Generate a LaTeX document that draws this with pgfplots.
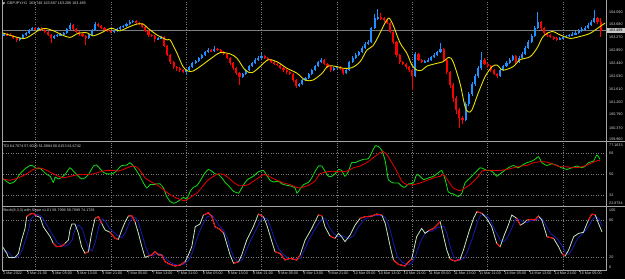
\documentclass[border=0pt]{standalone}
\usepackage{pgfplots}
\pgfplotsset{compat=1.18}
\usepackage{pgfplotstable}
\usepackage{fontspec}
\setmainfont{Liberation Sans}
\definecolor{upc}{RGB}{30,144,255}
\definecolor{dnc}{RGB}{255,0,0}
\definecolor{mac}{RGB}{235,225,0}
\definecolor{tdig}{RGB}{20,210,20}
\definecolor{tdir}{RGB}{225,0,0}
\definecolor{stc}{RGB}{195,230,195}
\definecolor{sigc}{RGB}{25,25,175}
\definecolor{gridc}{RGB}{125,125,125}
\definecolor{framec}{RGB}{165,165,165}
\definecolor{txtc}{RGB}{215,215,215}
\newcommand\mtf{\fontsize{3.7pt}{4pt}\selectfont}

\pgfplotstableread{
i o h l c
0 163.34 163.42 163.31 163.38
1 163.38 163.40 163.30 163.35
2 163.35 163.40 163.30 163.32
3 163.32 163.35 163.21 163.25
4 163.25 163.28 163.13 163.19
5 163.19 163.28 163.16 163.25
6 163.25 163.38 163.22 163.35
7 163.35 163.46 163.33 163.41
8 163.41 163.54 163.39 163.51
9 163.51 163.62 163.49 163.57
10 163.57 163.60 163.50 163.54
11 163.54 163.61 163.51 163.57
12 163.57 163.60 163.48 163.51
13 163.51 163.53 163.41 163.45
14 163.45 163.48 163.30 163.35
15 163.35 163.37 163.09 163.25
16 163.25 163.35 163.22 163.32
17 163.32 163.39 163.29 163.35
18 163.35 163.42 163.33 163.38
19 163.38 163.45 163.35 163.41
20 163.41 163.58 163.39 163.54
21 163.54 163.74 163.51 163.67
22 163.67 163.70 163.50 163.54
23 163.54 163.57 163.41 163.45
24 163.45 163.48 163.33 163.38
25 163.38 163.41 163.27 163.32
26 163.32 163.34 163.03 163.25
27 163.25 163.38 163.22 163.35
28 163.35 163.55 163.32 163.51
29 163.51 163.77 163.49 163.70
30 163.70 163.73 163.60 163.64
31 163.64 163.66 163.53 163.57
32 163.57 163.60 163.47 163.51
33 163.51 163.55 163.44 163.48
34 163.48 163.51 163.40 163.45
35 163.45 163.52 163.42 163.48
36 163.48 163.57 163.45 163.54
37 163.54 163.65 163.52 163.61
38 163.61 163.68 163.58 163.64
39 163.64 163.74 163.61 163.70
40 163.70 163.82 163.67 163.77
41 163.77 163.84 163.74 163.80
42 163.80 163.83 163.70 163.74
43 163.74 163.77 163.66 163.70
44 163.70 163.73 163.57 163.61
45 163.61 163.64 163.43 163.48
46 163.48 163.50 163.30 163.35
47 163.35 163.39 163.27 163.32
48 163.32 163.35 163.12 163.22
49 163.22 163.29 163.18 163.25
50 163.25 163.33 163.22 163.28
51 163.28 163.31 162.95 163.00
52 163.00 163.03 162.66 162.71
53 162.71 162.75 162.43 162.48
54 162.48 162.52 162.26 162.32
55 162.32 162.36 162.20 162.29
56 162.29 162.33 162.17 162.22
57 162.22 162.26 162.12 162.19
58 162.19 162.26 162.08 162.22
59 162.22 162.35 162.18 162.32
60 162.32 162.49 162.29 162.45
61 162.45 162.55 162.42 162.51
62 162.51 162.65 162.48 162.61
63 162.61 162.75 162.58 162.71
64 162.71 162.85 162.68 162.80
65 162.80 162.92 162.77 162.87
66 162.87 162.90 162.79 162.83
67 162.83 163.00 162.80 162.90
68 162.90 162.94 162.83 162.87
69 162.87 162.90 162.76 162.80
70 162.80 162.83 162.70 162.74
71 162.74 162.77 162.57 162.61
72 162.61 162.64 162.40 162.45
73 162.45 162.48 162.23 162.29
74 162.29 162.33 162.06 162.13
75 162.13 162.16 161.74 162.00
76 162.00 162.14 161.96 162.10
77 162.10 162.26 162.07 162.22
78 162.22 162.39 162.19 162.35
79 162.35 162.49 162.32 162.45
80 162.45 162.60 162.42 162.55
81 162.55 162.66 162.52 162.61
82 162.61 162.76 162.58 162.67
83 162.67 162.70 162.57 162.61
84 162.61 162.64 162.51 162.55
85 162.55 162.58 162.44 162.48
86 162.48 162.51 162.38 162.42
87 162.42 162.45 162.34 162.39
88 162.39 162.42 162.25 162.29
89 162.29 162.32 162.17 162.22
90 162.22 162.25 162.11 162.16
91 162.16 162.19 162.05 162.10
92 162.10 162.13 161.85 161.90
93 161.90 161.93 161.64 161.71
94 161.71 161.81 161.67 161.77
95 161.77 161.94 161.74 161.90
96 161.90 162.01 161.87 161.97
97 161.97 162.14 161.94 162.10
98 162.10 162.26 162.07 162.22
99 162.22 162.39 162.19 162.35
100 162.35 162.53 162.32 162.48
101 162.48 162.62 162.45 162.55
102 162.55 162.58 162.38 162.42
103 162.42 162.45 162.28 162.32
104 162.32 162.36 162.17 162.22
105 162.22 162.33 162.19 162.29
106 162.29 162.36 162.26 162.32
107 162.32 162.35 162.22 162.26
108 162.26 162.29 162.08 162.13
109 162.13 162.26 162.10 162.22
110 162.22 162.52 162.19 162.48
111 162.48 162.66 162.45 162.61
112 162.61 162.76 162.58 162.71
113 162.71 162.85 162.68 162.80
114 162.80 162.98 162.77 162.93
115 162.93 163.12 162.90 163.06
116 163.06 163.18 163.02 163.12
117 163.12 163.62 163.09 163.57
118 163.57 164.02 163.53 163.89
119 163.89 164.18 163.84 163.92
120 163.92 164.06 163.84 163.89
121 163.89 163.94 163.78 163.83
122 163.83 163.86 163.69 163.74
123 163.74 163.77 163.40 163.45
124 163.45 163.48 163.06 163.12
125 163.12 163.15 162.65 162.71
126 162.71 162.75 162.43 162.48
127 162.48 162.52 162.37 162.42
128 162.42 162.46 162.27 162.32
129 162.32 162.36 162.17 162.22
130 162.22 162.25 161.58 162.03
131 162.03 162.79 161.99 162.74
132 162.74 162.78 162.50 162.55
133 162.55 162.58 162.44 162.48
134 162.48 162.55 162.45 162.51
135 162.51 162.60 162.47 162.55
136 162.55 162.68 162.52 162.64
137 162.64 162.76 162.61 162.71
138 162.71 162.85 162.68 162.80
139 162.80 163.09 162.77 162.90
140 162.90 162.93 162.50 162.55
141 162.55 162.59 162.10 162.16
142 162.16 162.20 161.66 161.74
143 161.74 161.80 161.20 161.32
144 161.32 161.38 160.82 160.94
145 160.94 161.00 160.36 160.68
146 160.68 160.75 160.50 160.62
147 160.62 161.20 160.58 161.13
148 161.13 161.52 161.08 161.45
149 161.45 161.84 161.40 161.77
150 161.77 162.10 161.72 162.03
151 162.03 162.36 161.98 162.29
152 162.29 162.80 162.24 162.55
153 162.55 162.60 162.38 162.42
154 162.42 162.46 162.30 162.35
155 162.35 162.38 162.17 162.22
156 162.22 162.25 162.05 162.10
157 162.10 162.14 161.97 162.03
158 162.03 162.26 162.00 162.22
159 162.22 162.39 162.19 162.35
160 162.35 162.50 162.32 162.45
161 162.45 162.60 162.42 162.55
162 162.55 162.72 162.52 162.67
163 162.67 162.70 162.43 162.48
164 162.48 162.66 162.45 162.61
165 162.61 162.79 162.58 162.74
166 162.74 162.98 162.71 162.93
167 162.93 163.18 162.90 163.12
168 163.12 163.38 163.09 163.32
169 163.32 163.64 163.29 163.57
170 163.57 164.09 163.53 163.77
171 163.77 163.80 163.52 163.57
172 163.57 163.60 163.36 163.41
173 163.41 163.45 163.30 163.35
174 163.35 163.39 163.24 163.28
175 163.28 163.32 163.20 163.25
176 163.25 163.28 163.17 163.22
177 163.22 163.29 163.18 163.25
178 163.25 163.32 163.21 163.28
179 163.28 163.36 163.25 163.32
180 163.32 163.39 163.29 163.35
181 163.35 163.43 163.32 163.38
182 163.38 163.47 163.35 163.41
183 163.41 163.53 163.38 163.48
184 163.48 163.59 163.45 163.54
185 163.54 163.63 163.51 163.57
186 163.57 163.72 163.54 163.67
187 163.67 163.83 163.64 163.77
188 163.77 164.15 163.73 163.89
189 163.89 163.93 163.70 163.75
190 163.75 163.89 163.29 163.49
}\candles

\pgfplotstableread{
x y r
-0.3 36.0 0
0.9 26.4 0
1.4 20.0 0
2.4 19.5 0
3.5 20.0 0
4.6 26.4 0
5.6 47.9 0
6.7 66.6 0
7.2 85.4 1
8.3 89.6 1
9.4 90.7 1
10.4 86.4 1
11.5 84.3 0
12.5 69.3 0
13.6 61.2 0
14.7 53.2 0
15.7 42.5 1
16.8 37.1 1
18.4 38.2 1
19.4 42.5 1
20.5 47.9 0
21.0 63.9 0
21.6 73.6 0
22.6 73.6 0
23.7 58.6 0
24.7 37.1 0
25.8 26.4 1
26.9 29.1 1
27.9 58.6 0
29.0 82.7 1
30.1 85.4 1
31.1 74.6 1
32.2 63.9 0
33.8 60.2 1
35.4 50.5 1
36.4 48.9 1
37.5 63.9 0
38.6 77.3 0
39.6 86.4 1
40.7 87.0 1
41.7 77.3 1
42.8 58.6 0
43.9 37.1 0
44.9 20.0 0
46.0 22.1 1
47.0 23.8 1
48.1 29.1 1
49.2 23.8 1
50.2 23.8 1
51.3 13.0 1
52.9 8.8 1
54.5 6.1 1
56.1 7.7 1
57.7 13.0 1
58.7 23.8 0
59.8 37.1 0
60.9 69.3 0
62.4 73.6 0
63.5 88.0 1
65.1 91.8 1
66.2 85.4 1
67.2 69.3 1
68.8 65.0 1
69.9 59.6 1
70.9 42.5 0
72.0 23.8 0
73.1 10.4 1
74.7 13.0 1
75.7 23.8 0
77.3 47.9 0
79.4 69.3 0
81.0 89.6 1
82.6 85.4 1
83.7 71.9 0
85.3 45.2 0
86.3 29.1 1
87.9 26.4 1
89.5 15.7 1
91.1 18.4 1
93.2 15.7 1
94.3 24.0 1
95.9 47.9 0
98.0 66.6 0
100.1 88.0 1
101.2 87.0 1
102.2 69.3 0
103.8 54.3 1
105.4 50.5 1
106.5 58.6 0
107.5 53.2 0
108.6 45.2 0
110.2 55.9 0
111.8 71.9 0
113.4 82.7 1
115.0 85.4 1
117.1 86.4 1
118.7 89.6 1
120.3 88.0 1
121.4 74.6 0
123.0 37.1 0
124.0 15.7 1
125.6 8.8 1
127.7 6.1 1
128.8 13.0 1
129.8 16.8 1
131.4 53.2 0
133.0 66.6 0
134.1 58.6 0
135.2 62.9 1
136.8 66.6 1
138.9 77.3 1
140.0 53.2 0
141.0 31.8 0
142.1 16.8 1
143.7 14.1 1
145.2 16.8 1
146.3 31.8 0
147.9 58.6 0
149.5 82.7 0
150.6 93.4 1
152.2 90.7 1
153.7 82.7 0
155.3 69.3 0
156.9 42.5 1
158.0 37.1 1
159.1 53.2 0
160.6 71.9 0
161.7 88.0 0
163.3 82.7 1
164.4 71.9 1
165.4 74.6 0
166.5 80.0 1
168.1 81.1 1
169.1 80.0 1
170.2 86.4 1
171.3 80.0 0
172.9 53.2 1
175.0 50.5 1
176.6 37.1 0
177.6 26.4 1
178.7 22.1 1
179.8 31.8 0
181.4 53.2 0
183.0 58.6 0
184.5 60.2 0
186.1 80.0 1
187.2 89.6 1
188.3 88.0 1
189.3 74.6 0
190.4 61.2 0
}\stoch

\pgfplotsset{
  mtpanel/.style={
    scale only axis, width=603pt, anchor=south west,
    xmin=-0.32, xmax=191.7,
    axis line style={draw=none},
    xtick={10,34,58,82,106,130,154,178}, xticklabels={},
    xmajorgrids,
    major grid style={draw=gridc, line width=0.45pt, dash pattern=on 1pt off 1.5pt},
    major tick length=0pt,
    xtick pos=bottom, ytick pos=right, yticklabel pos=right,
    yticklabel style={font=\mtf, text=txtc, anchor=west, inner sep=0pt, xshift=3pt},
    xticklabel style={font=\mtf, text=txtc, anchor=north west, inner sep=0pt, yshift=-0.6pt},
    clip mode=individual,
  },
  wick/.style={draw=none, mark=none, forget plot,
    error bars/.cd, y dir=both, y explicit, error mark=none,
    error bar style={draw=#1, line width=0.75pt}},
  body/.style={draw=none, mark=none, forget plot,
    error bars/.cd, y dir=both, y explicit, error mark=none,
    error bar style={draw=#1, line width=2.1pt}},
}

\begin{document}
\begin{tikzpicture}
\useasboundingbox (0,0) rectangle (625pt,279pt);
\fill[black] (0,0) rectangle (625pt,279pt);

% ---------------- main price panel ----------------
\begin{axis}[mtpanel, at={(3pt,138.5pt)}, height=139.5pt,
  ymin=159.96, ymax=164.44,
  ytick={164.09,163.68,163.27,162.85,162.44,162.03,161.61,161.20,160.79,160.37},
  yticklabels={164.090,163.680,163.270,162.850,162.440,162.030,161.610,161.200,160.790,160.370}]
\addplot[gridc, line width=0.5pt, forget plot] coordinates {(-0.32,163.489) (191.7,163.489)};
% wicks
\addplot[restrict expr to domain={\thisrow{c}-\thisrow{o}}{0:10}, wick=upc]
  table[x=i, y expr={(\thisrow{h}+\thisrow{l})/2}, y error expr={(\thisrow{h}-\thisrow{l})/2}] {\candles};
\addplot[restrict expr to domain={\thisrow{c}-\thisrow{o}}{-10:-0.0001}, wick=dnc]
  table[x=i, y expr={(\thisrow{h}+\thisrow{l})/2}, y error expr={(\thisrow{h}-\thisrow{l})/2}] {\candles};
% bodies
\addplot[restrict expr to domain={\thisrow{c}-\thisrow{o}}{0:10}, body=upc]
  table[x=i, y expr={(\thisrow{o}+\thisrow{c})/2}, y error expr={(\thisrow{c}-\thisrow{o})/2}] {\candles};
\addplot[restrict expr to domain={\thisrow{c}-\thisrow{o}}{-10:-0.0001}, body=dnc]
  table[x=i, y expr={(\thisrow{o}+\thisrow{c})/2}, y error expr={(\thisrow{o}-\thisrow{c})/2}] {\candles};
% moving average
\addplot[mac, line width=0.9pt, smooth, tension=0.5] coordinates {
(-0.3,163.41) (5.1,163.25) (7.3,163.26) (11.5,163.53) (13.1,163.56) (15.6,163.49) (18.5,163.35) (21.0,163.27) (23.6,163.40) (26.4,163.42) (28.3,163.32) (30.6,163.40) (33.8,163.56) (35.4,163.53) (36.9,163.48) (40.1,163.62) (42.4,163.70) (44.3,163.70) (45.9,163.56) (48.7,163.35) (51.9,163.19) (52.9,163.19) (55.1,162.76) (57.0,162.33) (58.6,162.19) (60.2,162.19) (62.4,162.33) (65.6,162.57) (68.8,162.78) (72.0,162.74) (74.2,162.60) (76.8,162.22) (79.0,162.14) (81.5,162.33) (84.1,162.55) (86.9,162.49) (90.1,162.28) (93.3,162.12) (95.9,161.90) (98.4,161.90) (101.3,162.12) (103.2,162.35) (106.1,162.33) (108.0,162.28) (110.8,162.30) (113.4,162.49) (115.6,162.87) (117.5,163.00) (119.7,163.40) (121.3,163.73) (122.6,163.89) (123.9,163.67) (126.1,163.10) (128.3,162.76) (129.9,162.38) (131.5,162.22) (133.1,162.22) (134.7,162.35) (137.9,162.44) (139.8,162.49) (141.7,162.63) (143.0,162.49) (145.2,161.80) (146.8,161.05) (147.8,160.88) (149.0,160.94) (151.0,161.48) (153.2,162.01) (155.4,162.33) (157.0,162.38) (158.9,162.22) (162.1,162.33) (164.3,162.55) (167.5,162.65) (169.7,162.92) (171.7,163.30) (174.5,163.46) (177.1,163.35) (180.3,163.24) (183.4,163.30) (186.6,163.40) (189.8,163.62) (191.4,163.73)};
\node[fill=white!78!black, text=black, font=\mtf, inner sep=0pt, minimum height=5.6pt, minimum width=19pt, anchor=west] at (axis cs:191.7,163.489) {163.489};
\node[font=\mtf, text=txtc, anchor=west, inner sep=0pt] at ([xshift=3pt,yshift=1.6pt]axis cs:191.7,159.96) {159.960};
\end{axis}

% ---------------- TDI panel ----------------
\begin{axis}[mtpanel, at={(3pt,73pt)}, height=63pt,
  ymin=22.8734, ymax=77.1633, ytick={32,50,68}, yticklabels={32,50,68}, ymajorgrids]
\addplot[tdig, line width=0.85pt, smooth, tension=0.3] coordinates {
(-0.3,46.2) (0.32,45.1) (1.92,42.2) (3.51,44.2) (5.1,50.6) (6.7,54.9) (8.3,57.8) (9.35,57.3) (10.4,54.9) (11.5,55.2) (12.5,52.9) (13.6,50.0) (14.7,48.5) (15.7,43.3) (16.3,47.7) (17.3,46.2) (18.4,47.7) (19.4,50.0) (21.0,55.8) (22.1,52.9) (23.7,48.5) (24.7,46.2) (25.8,47.1) (26.9,50.0) (28.5,57.3) (29.5,58.1) (30.6,54.9) (31.6,52.0) (32.7,50.6) (34.3,50.6) (35.4,52.0) (36.4,54.9) (37.5,57.8) (39.1,58.1) (40.1,60.2) (41.2,57.3) (42.3,52.9) (43.3,48.5) (44.4,42.7) (45.5,38.4) (46.5,41.3) (47.6,41.3) (48.6,41.9) (49.7,41.9) (50.8,38.4) (51.8,31.1) (52.9,26.8) (54.0,25.3) (55.0,26.2) (56.1,28.2) (57.1,30.3) (58.2,28.8) (59.3,35.5) (60.3,39.0) (61.4,40.4) (62.4,44.2) (64.0,51.5) (65.1,54.4) (66.2,52.9) (67.2,50.6) (68.3,50.0) (69.4,47.1) (70.4,43.3) (71.5,40.4) (73.1,35.5) (74.7,34.0) (75.7,38.4) (76.8,43.3) (77.8,46.2) (79.4,48.5) (81.0,52.3) (82.6,53.5) (83.7,49.1) (84.8,44.8) (85.8,43.6) (87.4,44.2) (88.5,41.9) (90.1,40.7) (91.7,39.8) (92.7,38.4) (93.3,34.0) (94.3,37.5) (95.4,41.3) (97.0,43.3) (98.0,47.1) (99.1,52.9) (100.2,57.3) (101.2,57.3) (102.2,52.9) (103.3,48.5) (104.4,48.5) (105.4,50.6) (106.5,54.4) (107.5,53.5) (108.6,48.5) (109.7,52.9) (110.7,60.2) (111.8,60.2) (112.9,61.6) (114.5,63.1) (116.0,63.6) (117.1,68.9) (118.2,74.7) (119.2,74.1) (120.3,70.9) (121.4,61.6) (122.4,45.6) (124.0,42.7) (125.6,42.7) (126.7,39.8) (127.7,39.0) (128.8,41.9) (130.4,42.7) (131.4,50.0) (132.5,48.5) (133.6,45.6) (135.2,47.1) (136.8,48.5) (138.3,51.5) (139.4,53.5) (140.5,45.6) (141.5,34.9) (143.1,33.2) (144.7,31.1) (145.8,34.0) (146.8,42.7) (148.4,47.1) (150.0,51.5) (151.6,55.8) (152.7,54.9) (153.7,53.5) (154.8,53.5) (155.9,51.5) (156.9,48.5) (158.0,50.6) (159.1,52.9) (160.6,55.8) (162.2,57.8) (163.8,55.8) (164.9,57.8) (166.5,60.2) (168.1,61.6) (169.1,63.1) (170.2,65.4) (171.3,60.2) (172.9,57.8) (174.5,59.3) (176.1,57.8) (177.6,55.8) (179.2,54.4) (180.8,55.8) (182.4,57.3) (184.0,55.8) (185.1,57.3) (186.1,60.2) (187.7,61.6) (188.8,66.8) (189.8,63.1)};
\addplot[tdir, line width=0.85pt, smooth, tension=0.3] coordinates {
(-0.3,46.2) (1.9,45.1) (4.6,47.1) (7.2,50.6) (9.4,54.4) (10.9,55.8) (12.5,54.9) (14.1,52.9) (15.7,50.6) (17.3,48.5) (18.9,47.1) (20.5,48.0) (22.1,49.1) (24.2,50.0) (26.3,50.0) (28.5,50.6) (30.6,52.3) (32.7,53.5) (34.8,53.5) (36.4,52.9) (38.0,54.4) (40.1,56.7) (41.2,57.3) (42.3,56.4) (43.3,53.5) (44.9,47.1) (46.5,44.2) (48.6,41.3) (50.8,36.9) (52.9,32.6) (55.0,29.7) (57.1,27.6) (58.2,28.2) (59.8,31.1) (61.4,34.0) (62.4,36.9) (64.6,44.2) (66.7,48.5) (68.3,50.6) (69.9,50.0) (71.5,47.1) (73.1,43.3) (74.7,40.4) (76.3,40.4) (77.8,41.3) (79.4,44.2) (81.0,47.1) (82.6,50.0) (83.7,49.4) (85.3,47.1) (86.9,45.1) (89.0,42.7) (91.1,41.3) (92.7,39.3) (94.3,38.4) (96.9,40.7) (99.0,44.2) (100.6,50.6) (102.8,52.3) (104.9,52.9) (107.0,52.3) (109.1,52.9) (111.3,55.8) (113.4,57.3) (115.5,60.2) (117.6,64.5) (119.8,68.9) (120.8,69.7) (121.9,67.4) (123.5,60.2) (125.1,52.9) (126.7,44.2) (128.3,41.3) (130.4,41.3) (132.5,42.7) (134.6,44.8) (136.8,47.1) (138.9,48.5) (140.0,50.0) (141.5,44.2) (143.1,38.4) (145.2,36.1) (146.8,38.4) (148.4,41.3) (150.6,47.1) (152.2,52.9) (153.7,53.8) (155.9,53.5) (158.0,53.5) (160.1,54.4) (162.2,55.8) (164.4,57.3) (166.5,57.8) (168.6,60.2) (170.7,61.0) (172.9,60.7) (175.0,58.7) (177.1,56.7) (179.2,56.7) (181.4,55.8) (183.5,56.4) (185.6,58.1) (187.7,60.7) (189.3,62.2) (189.8,61.6)};
\end{axis}

% ---------------- Stochastic panel ----------------
\begin{axis}[mtpanel, at={(3pt,9.2pt)}, height=62.2pt,
  ymin=0, ymax=100, ytick={20,80}, yticklabels={20,80}, ymajorgrids,
  extra x ticks={-0.3,7.3,15.3,23.3,31.3,39.3,47.3,55.3,63.3,71.3,79.3,87.3,95.3,103.3,111.3,119.3,127.3,135.3,143.3,151.3,159.3,167.3,175.3,183.3},
  extra x tick labels={2 Mar 2022,3 Mar 21:00,4 Mar 05:00,4 Mar 13:00,4 Mar 21:00,7 Mar 05:00,7 Mar 13:00,7 Mar 21:00,8 Mar 05:00,8 Mar 13:00,8 Mar 21:00,9 Mar 05:00,9 Mar 13:00,9 Mar 21:00,10 Mar 05:00,10 Mar 13:00,10 Mar 21:00,11 Mar 05:00,11 Mar 13:00,11 Mar 21:00,14 Mar 05:00,14 Mar 13:00,14 Mar 21:00,15 Mar 05:00},
  extra x tick style={grid=none, major tick length=1.8pt, tick align=outside, tick style={draw=framec, line width=0.4pt}}]
\addplot[sigc, line width=0.8pt] coordinates {
(-0.3,30) (1.5,28) (2.6,21) (3.6,20) (4.7,22) (5.8,32) (6.8,47) (7.9,65) (8.4,80) (9.5,87) (10.6,89) (11.6,87) (12.7,80) (13.7,71) (14.8,62) (15.9,53) (16.9,44) (18.0,40) (19.6,38) (20.6,41) (21.7,48) (22.2,58) (22.8,67) (23.8,72) (24.9,66) (25.9,50) (27.0,34) (28.1,30) (29.1,45) (30.2,70) (31.3,82) (32.3,78) (33.4,68) (35.0,60) (36.6,53) (37.6,52) (38.7,60) (39.8,74) (40.8,84) (41.9,84) (42.9,74) (44.0,56) (45.1,37) (46.1,25) (47.2,22) (48.2,25) (49.3,26) (50.4,24) (51.4,19) (52.5,13) (54.1,9) (55.7,7) (57.3,9) (58.9,16) (59.9,27) (61.0,43) (62.1,60) (63.6,76) (64.7,85) (66.3,88) (67.4,80) (68.4,72) (70.0,63) (71.1,52) (72.1,33) (73.2,20) (74.3,13) (75.9,16) (76.9,28) (78.5,47) (80.6,68) (82.2,84) (83.8,82) (84.9,68) (86.5,45) (87.5,33) (89.1,24) (90.7,18) (92.3,17) (94.4,18) (95.5,30) (97.1,48) (99.2,67) (101.3,82) (102.4,82) (103.4,70) (105.0,58) (106.6,53) (107.7,55) (108.7,52) (109.8,50) (111.4,55) (113.0,70) (114.6,80) (116.2,85) (118.3,87) (119.9,88) (121.5,84) (122.6,70) (124.2,40) (125.2,22) (126.8,12) (128.9,8) (130.0,12) (131.0,22) (132.6,45) (134.2,60) (135.3,62) (136.4,62) (138.0,68) (140.1,70) (141.2,55) (142.2,35) (143.3,20) (144.9,15) (146.4,18) (147.5,28) (149.1,50) (150.7,75) (151.8,88) (153.4,88) (154.9,80) (156.5,62) (158.1,47) (159.2,45) (160.3,52) (161.8,68) (162.9,82) (164.5,80) (165.6,76) (166.6,76) (167.7,79) (169.3,80) (170.3,82) (171.4,82) (172.5,72) (174.1,58) (176.2,50) (177.8,38) (178.8,28) (179.9,25) (181.0,34) (182.6,50) (184.2,58) (185.7,66) (187.3,80) (188.4,86) (189.5,82) (190.5,70)};
\addplot[stc, line width=0.8pt] table[x=x, y=y] {\stoch};
\addplot[dnc, line width=0.95pt, unbounded coords=jump, restrict expr to domain={\thisrow{r}}{0.5:1.5}] table[x=x, y=y] {\stoch};
\end{axis}

% ---------------- frame, separators, headers, edge labels ----------------
\draw[framec, line width=0.6pt] (1.8pt,279pt) -- (1.8pt,9.2pt) -- (606pt,9.2pt) -- (606pt,279pt);
\draw[framec, line width=1.8pt] (1.5pt,137.4pt) -- (625pt,137.4pt);
\draw[framec, line width=1.8pt] (1.5pt,72.4pt) -- (625pt,72.4pt);

\fill[txtc] (2.6pt,276.6pt) -- (5pt,276.6pt) -- (3.8pt,274.4pt) -- cycle;
\node[anchor=north west, inner sep=0pt, font=\mtf, text=txtc] at (7pt,277.3pt) {GBPJPY,H1\ \ 163.748 163.887 163.288 163.489};
\node[anchor=north west, inner sep=0pt, font=\mtf, text=txtc] at (2.8pt,134.4pt) {TDI 64.7074 57.9029 51.0984 60.6153 61.6742};
\node[anchor=north west, inner sep=0pt, font=\mtf, text=txtc] at (2.8pt,70.4pt) {Stoch(8,3,3) with Slope v1.01 58.7999 58.7999 74.1729};

\node[anchor=west, inner sep=0pt, font=\mtf, text=txtc] at (609pt,134pt) {77.1633};
\node[anchor=west, inner sep=0pt, font=\mtf, text=txtc] at (609pt,75.7pt) {22.8734};
\node[anchor=west, inner sep=0pt, font=\mtf, text=txtc] at (609pt,69pt) {100};
\node[anchor=west, inner sep=0pt, font=\mtf, text=txtc] at (609pt,11.3pt) {0};
\end{tikzpicture}
\end{document}
